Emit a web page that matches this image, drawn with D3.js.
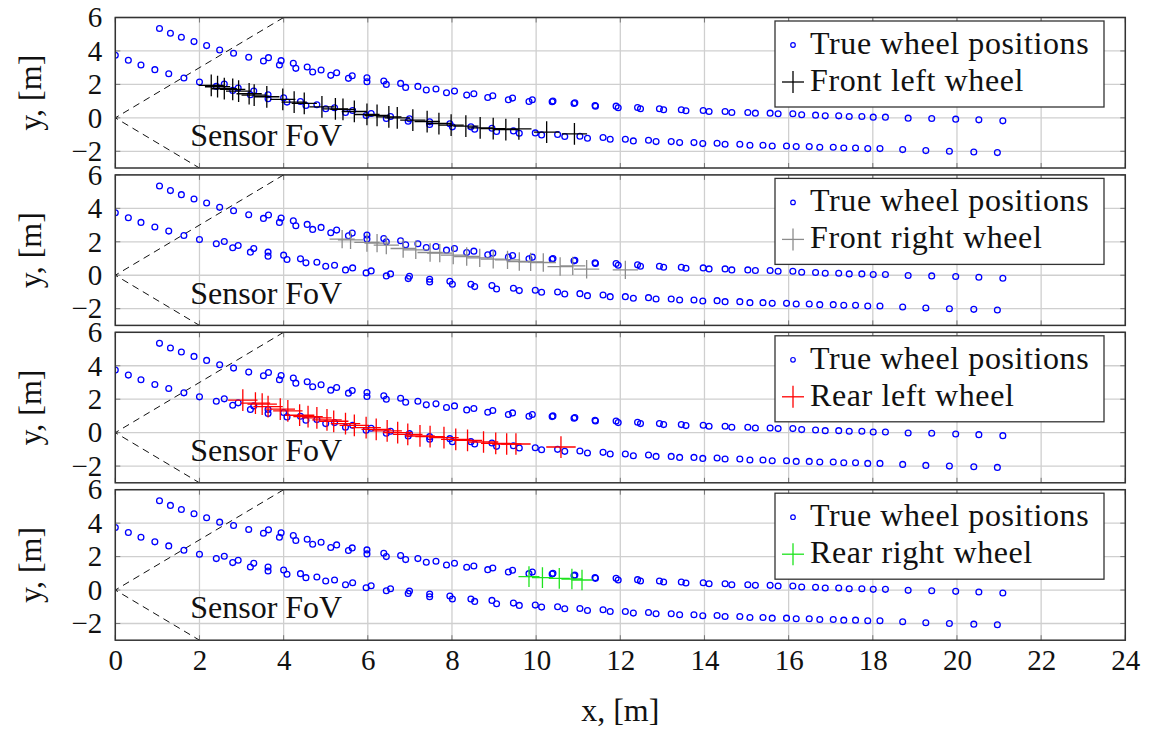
<!DOCTYPE html>
<html>
<head>
<meta charset="utf-8">
<script src="https://cdn.jsdelivr.net/npm/d3@7"></script>
<style>
body { margin: 0; background: #fff; }
svg text { font-family: "Liberation Serif", "Times New Roman", Tinos, "DejaVu Serif", "Noto Serif", serif; fill: #111; }
</style>
</head>
<body>
<svg id="chart" width="1150" height="729"></svg>
<script>
// true wheel positions, upper track (left wheels)
var upperX = [1.05, 1.31, 1.57, 1.87, 2.17, 2.48, 2.81, 3.17, 3.52, 3.64, 3.90, 3.94, 4.23, 4.29, 4.56, 4.69, 4.89, 5.12, 5.26, 5.54, 5.63, 5.98, 5.98, 6.38, 6.44, 6.78, 6.90, 7.19, 7.39, 7.62, 7.87, 8.06, 8.35, 8.52, 8.85, 8.97, 9.34, 9.44, 9.83, 9.91, 10.38, 10.40, 10.90, 10.92, 11.40, 11.41, 11.90, 11.95, 12.41, 12.48, 12.93, 13.03, 13.45, 13.56, 13.97, 14.11, 14.49, 14.65, 15.03, 15.21, 15.56, 15.75, 16.10, 16.31, 16.64, 16.87, 17.19, 17.44, 17.74, 18.01, 18.30, 18.84, 19.40, 19.97, 20.52, 21.09];
var upperY = [5.34, 5.06, 4.82, 4.56, 4.32, 4.06, 3.86, 3.62, 3.40, 3.60, 3.16, 3.42, 3.26, 2.96, 3.04, 2.74, 2.86, 2.54, 2.70, 2.36, 2.52, 2.40, 2.16, 2.20, 2.00, 2.06, 1.82, 1.88, 1.66, 1.72, 1.50, 1.60, 1.36, 1.44, 1.22, 1.32, 1.08, 1.18, 0.98, 1.08, 0.96, 1.00, 0.86, 0.90, 0.74, 0.70, 0.70, 0.60, 0.62, 0.54, 0.54, 0.48, 0.48, 0.42, 0.44, 0.38, 0.38, 0.32, 0.32, 0.28, 0.28, 0.24, 0.24, 0.18, 0.16, 0.12, 0.12, 0.08, 0.08, 0.04, 0.04, -0.02, -0.04, -0.08, -0.12, -0.18];
// true wheel positions, lower track (right wheels)
var lowerX = [0, 0.31, 0.61, 0.94, 1.27, 1.63, 2.00, 2.40, 2.59, 2.79, 2.92, 3.21, 3.29, 3.63, 3.63, 4.00, 4.08, 4.40, 4.53, 4.79, 5.00, 5.21, 5.47, 5.64, 5.96, 6.08, 6.44, 6.54, 6.96, 6.99, 7.47, 7.47, 7.95, 8.01, 8.45, 8.54, 8.95, 9.06, 9.46, 9.60, 9.98, 10.13, 10.51, 10.68, 11.04, 11.22, 11.59, 11.76, 12.12, 12.31, 12.67, 12.85, 13.21, 13.41, 13.75, 13.96, 14.30, 14.49, 14.84, 15.08, 15.39, 15.61, 15.95, 16.18, 16.49, 16.74, 17.06, 17.31, 17.59, 17.88, 18.17, 18.71, 19.26, 19.82, 20.40, 20.96];
var lowerY = [3.74, 3.44, 3.16, 2.88, 2.64, 2.38, 2.14, 1.88, 2.02, 1.64, 1.78, 1.38, 1.60, 1.38, 1.14, 1.20, 0.94, 0.98, 0.74, 0.78, 0.54, 0.60, 0.32, 0.44, 0.14, 0.26, -0.04, 0.08, -0.20, -0.06, -0.24, -0.40, -0.36, -0.54, -0.54, -0.68, -0.62, -0.82, -0.78, -0.92, -0.90, -1.02, -1.00, -1.12, -1.10, -1.22, -1.18, -1.28, -1.28, -1.38, -1.34, -1.42, -1.42, -1.48, -1.48, -1.54, -1.52, -1.58, -1.58, -1.64, -1.64, -1.68, -1.68, -1.72, -1.72, -1.76, -1.76, -1.80, -1.80, -1.84, -1.84, -1.90, -1.96, -2.00, -2.04, -2.08];

// measured wheel positions
var flX = [2.28, 2.43, 2.59, 2.79, 2.93, 3.18, 3.30, 3.60, 3.98, 4.25, 4.49, 4.91, 5.23, 5.41, 5.68, 5.98, 6.22, 6.50, 6.70, 7.07, 7.41, 7.69, 7.98, 8.33, 8.67, 8.98, 9.28, 9.59, 10.25, 10.91];
var flY = [1.94, 1.86, 1.74, 1.70, 1.60, 1.44, 1.36, 1.26, 1.10, 0.94, 0.86, 0.66, 0.54, 0.50, 0.38, 0.20, 0.14, 0.06, 0.00, -0.14, -0.22, -0.34, -0.44, -0.50, -0.60, -0.64, -0.70, -0.66, -0.86, -0.96];
var frX = [5.39, 5.59, 5.98, 6.22, 6.44, 6.84, 7.14, 7.48, 7.71, 8.03, 8.35, 8.66, 8.98, 9.32, 9.60, 9.87, 10.17, 10.57, 10.87, 11.20, 12.12];
var frY = [2.16, 2.12, 1.96, 1.92, 1.80, 1.60, 1.52, 1.36, 1.32, 1.20, 1.12, 1.04, 0.96, 0.92, 0.82, 0.80, 0.76, 0.52, 0.56, 0.36, 0.32];
var rlX = [3.03, 3.33, 3.49, 3.63, 3.92, 4.10, 4.38, 4.58, 4.79, 5.03, 5.19, 5.47, 5.68, 5.96, 6.20, 6.46, 6.71, 6.95, 7.24, 7.48, 7.81, 8.09, 8.37, 8.75, 9.04, 9.30, 9.52, 10.59];
var rlY = [1.94, 1.76, 1.70, 1.56, 1.40, 1.30, 1.04, 0.96, 0.88, 0.76, 0.68, 0.54, 0.44, 0.30, 0.20, 0.10, 0.00, -0.10, -0.20, -0.24, -0.30, -0.40, -0.46, -0.56, -0.64, -0.68, -0.68, -0.86];
var rrX = [9.83, 10.15, 10.55, 10.85, 11.09];
var rrY = [0.80, 0.74, 0.70, 0.66, 0.60];

var seriesNames = ["Front left wheel", "Front right wheel", "Rear left wheel", "Rear right wheel"];
var xErr = [0.30, 0.30, 0.35, 0.25];
var yErr = [0.65, 0.55, 0.65, 0.62];

var xTicks = [0, 2, 4, 6, 8, 10, 12, 14, 16, 18, 20, 22, 24];
var yTicks = [-2, 0, 2, 4, 6];
// sensor field of view edges (x, y)
var fovX = [4, 0, 2];
var fovY = [6, 0, -3];

var trueX = upperX.concat(lowerX);
var trueY = upperY.concat(lowerY);

var FONT = '"Liberation Serif", "Times New Roman", Tinos, "DejaVu Serif", "Noto Serif", serif';
var svg = d3.select("#chart");
var left = 115.3, right = 1125.3;
var top0 = 17.5, step = 157.4, ph = 150.5;
var x = d3.scaleLinear().domain([0, 24]).range([left, right]);

var panels = [
	{ mx: flX, my: flY, color: "#000000" },
	{ mx: frX, my: frY, color: "#8c8c8c" },
	{ mx: rlX, my: rlY, color: "#ff0000" },
	{ mx: rrX, my: rrY, color: "#1ee31e" }
];

panels.forEach(function(p, i) {
	var top = top0 + i * step;
	var y = d3.scaleLinear().domain([-3, 6]).range([top + ph, top]);
	var g = svg.append("g");

	g.append("clipPath").attr("id", "clip" + i)
		.append("rect").attr("x", left).attr("y", top).attr("width", right - left).attr("height", ph);

	//网格
	g.append("g").selectAll("line").data(xTicks).enter().append("line")
		.attr("x1", d => x(d)).attr("x2", d => x(d))
		.attr("y1", top).attr("y2", top + ph)
		.attr("stroke", "#cfcfcf").attr("stroke-width", 1.3);
	g.append("g").selectAll("line").data(yTicks).enter().append("line")
		.attr("y1", d => y(d)).attr("y2", d => y(d))
		.attr("x1", left).attr("x2", right)
		.attr("stroke", "#cfcfcf").attr("stroke-width", 1.3);

	// small inner ticks on the frame
	var tk = g.append("g").attr("stroke", "#777").attr("stroke-width", 1);
	xTicks.forEach(function(d) {
		tk.append("line").attr("x1", x(d)).attr("x2", x(d)).attr("y1", top).attr("y2", top + 5);
		tk.append("line").attr("x1", x(d)).attr("x2", x(d)).attr("y1", top + ph).attr("y2", top + ph - 5);
	});
	yTicks.forEach(function(d) {
		tk.append("line").attr("y1", y(d)).attr("y2", y(d)).attr("x1", left).attr("x2", left + 5);
		tk.append("line").attr("y1", y(d)).attr("y2", y(d)).attr("x1", right).attr("x2", right - 5);
	});

	var plot = g.append("g").attr("clip-path", "url(#clip" + i + ")");

	// sensor FoV
	plot.append("path")
		.datum(d3.range(fovX.length))
		.attr("d", d3.line().x(k => x(fovX[k])).y(k => y(fovY[k])))
		.attr("fill", "none").attr("stroke", "#111").attr("stroke-width", 1)
		.attr("stroke-dasharray", "7,5");
	g.append("text").attr("x", x(1.78)).attr("y", y(-1.7))
		.style("font-size", "32px").text("Sensor FoV");

	// true positions
	plot.append("g").selectAll("circle").data(d3.range(trueX.length)).enter().append("circle")
		.attr("cx", k => x(trueX[k])).attr("cy", k => y(trueY[k])).attr("r", 2.9)
		.attr("fill", "none").attr("stroke", "#0000ff").attr("stroke-width", 1.3);

	// measured positions with error bars
	var eb = plot.append("g").attr("stroke", p.color).attr("stroke-width", 1.3);
	var idx = d3.range(p.mx.length);
	eb.selectAll(".h").data(idx).enter().append("line").attr("class", "h")
		.attr("x1", k => x(p.mx[k] - xErr[i])).attr("x2", k => x(p.mx[k] + xErr[i]))
		.attr("y1", k => y(p.my[k])).attr("y2", k => y(p.my[k]));
	eb.selectAll(".v").data(idx).enter().append("line").attr("class", "v")
		.attr("x1", k => x(p.mx[k])).attr("x2", k => x(p.mx[k]))
		.attr("y1", k => y(p.my[k] - yErr[i])).attr("y2", k => y(p.my[k] + yErr[i]));

	// frame
	g.append("rect").attr("x", left).attr("y", top).attr("width", right - left).attr("height", ph)
		.attr("fill", "none").attr("stroke", "#333").attr("stroke-width", 1.5);

	// y axis labels
	var ya = g.append("g").attr("transform", "translate(" + left + ",0)")
		.call(d3.axisLeft(y).tickValues(yTicks).tickSize(0).tickPadding(13).tickFormat(d3.format("d")));
	ya.attr("font-family", null).attr("font-size", null);
	ya.select(".domain").remove();
	ya.selectAll("text").style("font-size", "29px").attr("fill", "#111").style("font-family", FONT);
	g.append("text").attr("transform", "translate(41," + (top + ph / 2) + ") rotate(-90)")
		.attr("text-anchor", "middle").style("font-size", "32px").text("y, [m]");

	//图例
	var lx = 775, ly = top + 3.5, lw = 329, lh = 86;
	var lg = g.append("g");
	lg.append("rect").attr("x", lx).attr("y", ly).attr("width", lw).attr("height", lh)
		.attr("fill", "#fff").attr("stroke", "#333").attr("stroke-width", 1.3);
	lg.append("circle").attr("cx", lx + 18).attr("cy", ly + 24).attr("r", 2.3)
		.attr("fill", "none").attr("stroke", "#0000ff").attr("stroke-width", 1.2);
	lg.append("text").attr("x", lx + 35).attr("y", ly + 33).style("font-size", "32px")
		.style("letter-spacing", "0.6px").text("True wheel positions");
	lg.append("line").attr("x1", lx + 7).attr("x2", lx + 29).attr("y1", ly + 61).attr("y2", ly + 61)
		.attr("stroke", p.color).attr("stroke-width", 1.3);
	lg.append("line").attr("x1", lx + 18).attr("x2", lx + 18).attr("y1", ly + 50).attr("y2", ly + 72)
		.attr("stroke", p.color).attr("stroke-width", 1.3);
	lg.append("text").attr("x", lx + 35).attr("y", ly + 70).style("font-size", "32px")
		.style("letter-spacing", "0.6px").text(seriesNames[i]);

	// x axis on the last panel
	if (i === panels.length - 1) {
		var xa = g.append("g").attr("transform", "translate(0," + (top + ph) + ")")
			.call(d3.axisBottom(x).tickValues(xTicks).tickSize(0).tickPadding(9).tickFormat(d3.format("d")));
		xa.attr("font-family", null).attr("font-size", null);
		xa.select(".domain").remove();
		xa.selectAll("text").style("font-size", "29px").attr("fill", "#111").style("font-family", FONT);
		g.append("text").attr("x", (left + right) / 2).attr("y", 721)
			.attr("text-anchor", "middle").style("font-size", "32px").text("x, [m]");
	}
});
</script>
</body>
</html>
